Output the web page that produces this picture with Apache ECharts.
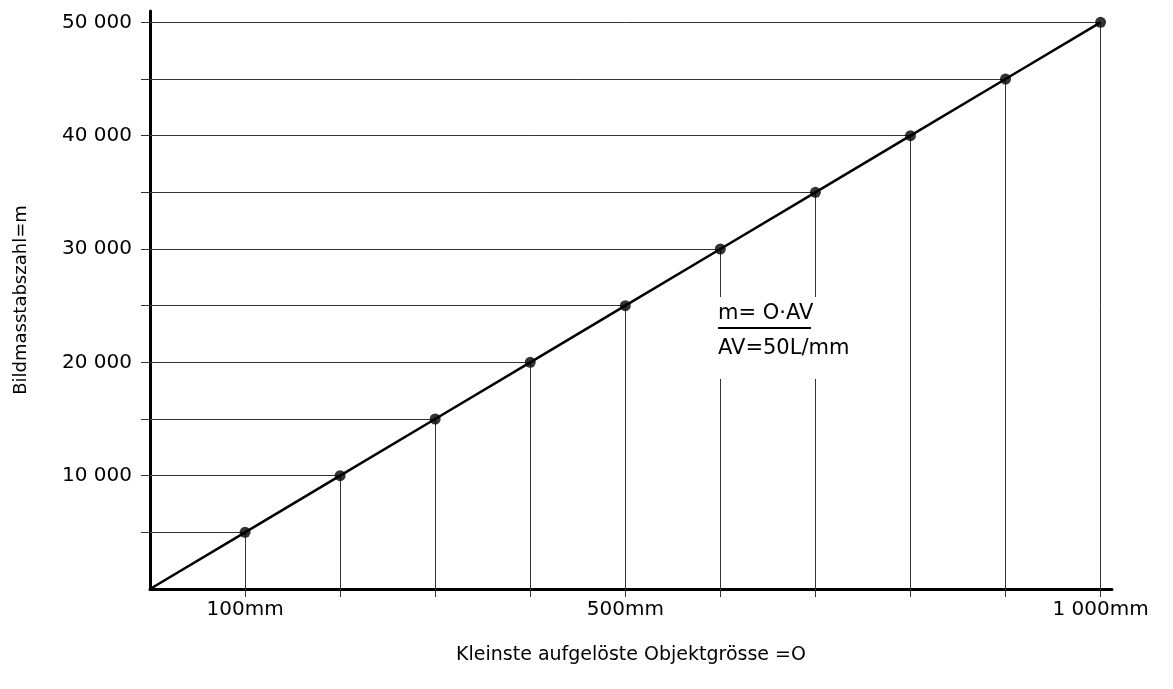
<!DOCTYPE html>
<html>
<head>
<meta charset="utf-8">
<script src="https://cdn.jsdelivr.net/npm/echarts@6/dist/echarts.min.js"></script>
<style>
  html, body { margin: 0; padding: 0; background: #fff; }
  #chart { width: 1173px; height: 689px; }
</style>
</head>
<body>
<div id="chart"></div>
<script>
// Objektgrösse (mm) und Bildmasstabszahl
const objSizes = [100, 200, 300, 400, 500, 600, 700, 800, 900, 1000];
const scaleNums = [5000, 10000, 15000, 20000, 25000, 30000, 35000, 40000, 45000, 50000];

const xLabelValues = [100, 500, 1000];
const xLabelTexts = ['100mm', '500mm', '1 000mm'];
const yLabelValues = [10000, 20000, 30000, 40000, 50000];
const yLabelTexts = ['10 000', '20 000', '30 000', '40 000', '50 000'];

const FONT = '"DejaVu Sans", "Noto Sans", sans-serif';

const points = objSizes.map((x, i) => [x, scaleNums[i]]);
const lineData = [[0, 0]].concat(points);

// Hilfslinien: waagrecht zur y-Achse, senkrecht zur x-Achse
const guideData = [];
points.forEach(p => {
  guideData.push({ coords: [[0, p[1]], [p[0], p[1]]] });
  guideData.push({ coords: [[p[0], p[1]], [p[0], 0]] });
});

const chart = echarts.init(document.getElementById('chart'));
chart.setOption({
  animation: false,
  backgroundColor: '#fff',
  grid: { left: 150, right: 61, top: 11, bottom: 100 },
  xAxis: {
    type: 'value',
    min: 0,
    max: 1012,
    interval: 100,
    name: 'Kleinste aufgelöste Objektgrösse =O',
    nameLocation: 'middle',
    nameGap: 57,
    nameTextStyle: { color: '#000', fontSize: 19, fontFamily: FONT },
    axisLine: { show: true, onZero: false, lineStyle: { color: '#000', width: 3 } },
    axisTick: {
      show: true,
      customValues: objSizes,
      length: 8,
      lineStyle: { color: '#333', width: 1 }
    },
    axisLabel: {
      customValues: xLabelValues,
      formatter: v => xLabelTexts[xLabelValues.indexOf(v)] || '',
      color: '#000',
      fontSize: 20,
      fontFamily: FONT,
      margin: 11
    },
    splitLine: { show: false }
  },
  yAxis: {
    type: 'value',
    min: 0,
    max: 51000,
    interval: 5000,
    name: 'Bildmasstabszahl=m',
    nameLocation: 'middle',
    nameGap: 120,
    nameTextStyle: { color: '#000', fontSize: 18, fontFamily: FONT },
    axisLine: { show: true, onZero: false, lineStyle: { color: '#000', width: 3 } },
    axisTick: {
      show: true,
      customValues: scaleNums,
      length: 9,
      lineStyle: { color: '#333', width: 1 }
    },
    axisLabel: {
      customValues: yLabelValues,
      formatter: v => yLabelTexts[yLabelValues.indexOf(v)] || '',
      color: '#000',
      fontSize: 20,
      fontFamily: FONT,
      margin: 18
    },
    splitLine: { show: false }
  },
  series: [
    {
      type: 'lines',
      coordinateSystem: 'cartesian2d',
      polyline: false,
      silent: true,
      z: 1,
      lineStyle: { color: '#333', width: 1, opacity: 1 },
      data: guideData
    },
    {
      type: 'line',
      data: lineData,
      showSymbol: false,
      z: 3,
      lineStyle: { color: '#000', width: 2.5 }
    },
    {
      type: 'scatter',
      data: points,
      symbolSize: 11,
      z: 4,
      itemStyle: { color: '#000' }
    }
  ],
  graphic: [
    { type: 'rect', left: 712, top: 297, z: 100, shape: { width: 150, height: 82 }, style: { fill: '#fff' } },
    { type: 'text', left: 718, top: 303, z: 101, style: { text: 'm= O·AV', fill: '#000', font: '21px ' + FONT } },
    { type: 'rect', left: 718, top: 327, z: 101, shape: { width: 93, height: 2 }, style: { fill: '#000' } },
    { type: 'text', left: 718, top: 338, z: 101, style: { text: 'AV=50L/mm', fill: '#000', font: '21px ' + FONT } }
  ]
});
</script>
</body>
</html>
